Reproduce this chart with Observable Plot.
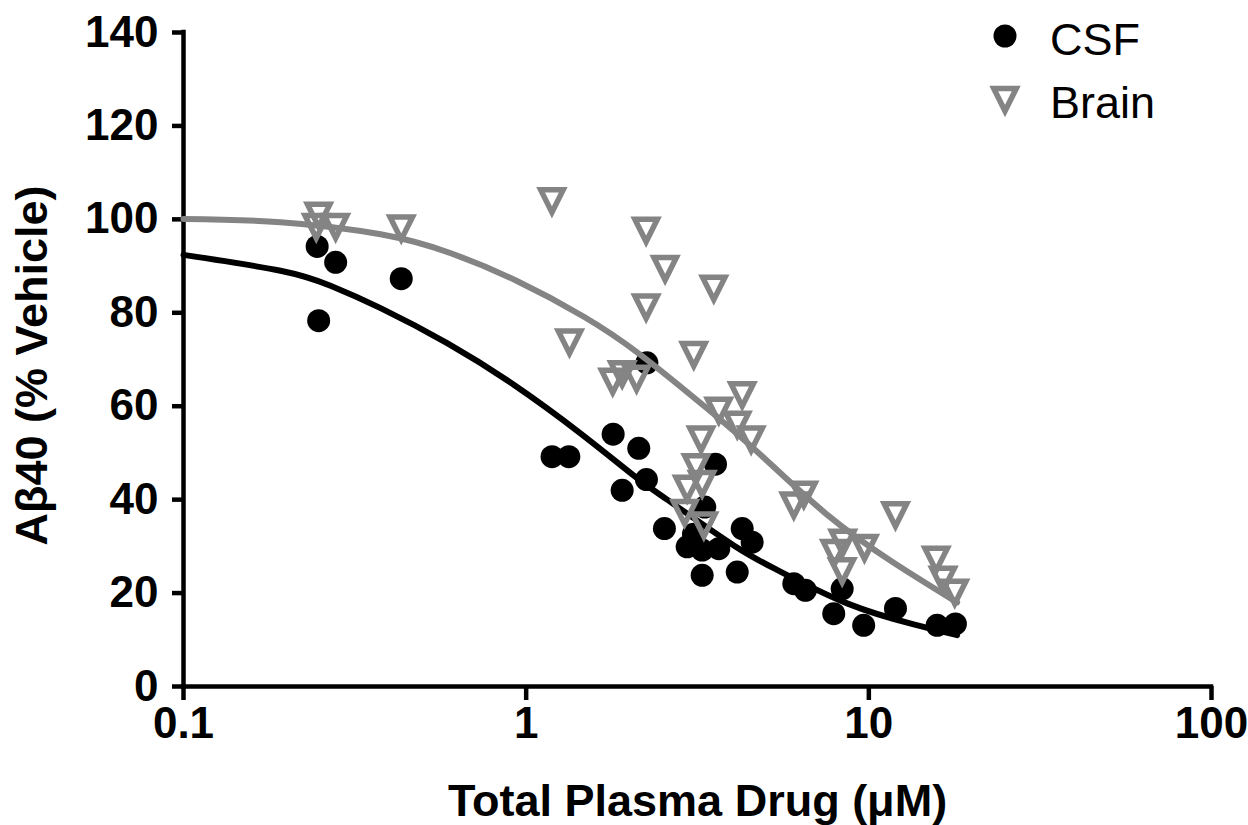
<!DOCTYPE html>
<html><head><meta charset="utf-8">
<script src="https://cdn.jsdelivr.net/npm/d3@7"></script>
<script src="https://cdn.jsdelivr.net/npm/@observablehq/plot@0.6"></script>
<style>
body{margin:0;background:#fff;}
#wrap{position:relative;width:1248px;height:825px;}
#legend{position:absolute;left:0;top:0;pointer-events:none;}
</style></head><body><div id="wrap"></div>
<script>
// ---- data ----
const xTicks = [0.1, 1, 10, 100];
const yTicks = [0, 20, 40, 60, 80, 100, 120, 140];
const seriesNames = ["CSF", "Brain"];

const csfX = [0.2455, 0.278, 0.432, 0.248, 1.19, 1.332, 1.794, 2.131, 2.244, 1.906, 2.25, 3.568, 3.32, 2.532, 4.27, 4.566, 2.95, 3.263, 3.648, 3.078, 3.263, 4.13, 6.04, 6.53, 8.36, 7.90, 9.66, 11.96, 15.82, 17.89];
const csfY = [94.2, 90.8, 87.3, 78.3, 49.2, 49.2, 54.0, 51.0, 44.3, 42.0, 69.3, 47.6, 38.4, 33.8, 33.8, 30.9, 29.9, 29.2, 29.5, 32.6, 23.8, 24.5, 22.0, 20.6, 20.9, 15.6, 13.1, 16.7, 13.1, 13.4];

const brainX = [0.248, 0.244, 0.278, 0.432, 1.189, 2.239, 2.544, 3.528, 2.239, 1.338, 3.084, 1.789, 1.906, 2.10, 4.27, 3.648, 4.13, 4.535, 3.24, 3.13, 3.263, 2.95, 2.90, 3.30, 6.04, 6.46, 11.96, 8.39, 9.71, 7.94, 8.36, 15.72, 16.47, 17.81];
const brainY = [100.4, 98.0, 98.0, 97.7, 103.5, 97.2, 89.0, 84.8, 80.8, 73.3, 70.6, 64.9, 66.5, 65.5, 62.0, 58.7, 55.7, 52.5, 52.5, 46.6, 43.0, 42.0, 36.8, 34.1, 38.4, 40.7, 36.3, 30.4, 29.3, 28.2, 24.3, 26.8, 22.5, 19.7];

// fitted curves
const csfCurveX = [0.1, 0.192, 0.2685, 0.376, 0.588, 0.92, 1.44, 2.057, 2.579, 4.035, 5.52, 8.64, 13.52, 18.1];
const csfCurveY = [92.4, 89.0, 85.8, 81.0, 73.5, 64.6, 54.2, 45.2, 40.0, 30.2, 24.6, 17.8, 13.3, 11.0];
const brainCurveX = [0.1, 0.192, 0.376, 0.6, 0.94, 1.47, 2.156, 3.374, 4.83, 7.55, 11.82, 18.1];
const brainCurveY = [100.1, 99.4, 96.8, 92.8, 86.8, 79.2, 71.0, 59.5, 49.6, 36.8, 26.5, 18.0];

const GRAY = "#848484";
const FONT = "'Liberation Sans', Arial, Helvetica, sans-serif";

const zip = (xs, ys) => xs.map((x, i) => ({x, y: ys[i]}));
const csf = zip(csfX, csfY);
const brain = zip(brainX, brainY);
const csfCurve = zip(csfCurveX, csfCurveY);
const brainCurve = zip(brainCurveX, brainCurveY);

// downward-pointing open triangle (GraphPad style)
const downTri = {
  draw(ctx, size) {
    const s = Math.sqrt(size / Math.PI) / 10;
    ctx.moveTo(-11.25 * s, -13.15 * s);
    ctx.lineTo(11.25 * s, -13.15 * s);
    ctx.lineTo(0, 9.35 * s);
    ctx.closePath();
  }
};

const chart = Plot.plot({
  width: 1248,
  height: 825,
  marginLeft: 183,
  marginRight: 37,
  marginTop: 32,
  marginBottom: 139,
  style: {fontFamily: FONT, color: "black", background: "white", overflow: "visible"},
  x: {type: "log", domain: [0.1, 100]},
  y: {domain: [0, 140]},
  marks: [
    Plot.axisY({ticks: yTicks, tickSize: 11, tickPadding: 14, strokeWidth: 4.5, fontSize: 44, fontWeight: "bold", tickFormat: d => String(d), label: null}),
    Plot.axisX({ticks: xTicks, tickSize: 14, tickPadding: 6, strokeWidth: 4.5, fontSize: 44, fontWeight: "bold", tickFormat: d => String(d), label: null}),
    Plot.ruleY([0], {stroke: "black", strokeWidth: 4.5, strokeLinecap: "square"}),
    Plot.ruleX([0.1], {stroke: "black", strokeWidth: 4.5, strokeLinecap: "square"}),
    Plot.line(csfCurve, {x: "x", y: "y", stroke: "black", strokeWidth: 6, curve: "natural"}),
    Plot.dot(csf, {x: "x", y: "y", r: 11.5, fill: "black", stroke: null}),
    Plot.line(brainCurve, {x: "x", y: "y", stroke: GRAY, strokeWidth: 6, curve: "natural"}),
    Plot.dot(brain, {x: "x", y: "y", r: 10, symbol: downTri, fill: "none", stroke: GRAY, strokeWidth: 5.5, strokeLinejoin: "miter", strokeMiterlimit: 10}),
    Plot.text(["Aβ40 (% Vehicle)"], {text: d => d, frameAnchor: "left", rotate: -90, dx: -137, dy: 6, lineAnchor: "bottom", textAnchor: "middle", fontSize: 45, fontWeight: "bold", fill: "black"}),
    Plot.text(["Total Plasma Drug (μM)"], {text: d => d, frameAnchor: "bottom", dy: 129, lineAnchor: "bottom", textAnchor: "middle", fontSize: 45, fontWeight: "bold", fill: "black"})
  ]
});

const wrap = document.getElementById("wrap");
wrap.appendChild(chart);

// legend overlay (top right, inside the plot area)
const leg = d3.create("svg").attr("id", "legend").attr("width", 1248).attr("height", 825);
const items = [
  {name: seriesNames[0], cx: 1005, cy: 36, base: 55},
  {name: seriesNames[1], cx: 1005, cy: 101.7, base: 118}
];
leg.append("circle").attr("cx", items[0].cx).attr("cy", items[0].cy).attr("r", 11.5).attr("fill", "black");
leg.append("path").attr("d", d3.symbol(downTri, Math.PI * 100)())
  .attr("transform", `translate(${items[1].cx},${items[1].cy})`)
  .attr("fill", "none").attr("stroke", GRAY).attr("stroke-width", 5.5).attr("stroke-linejoin", "miter");
for (const it of items) {
  leg.append("text").attr("x", 1050).attr("y", it.base).text(it.name)
    .attr("font-family", FONT).attr("font-size", 45).attr("fill", "black");
}
wrap.appendChild(leg.node());
</script>
</body></html>
